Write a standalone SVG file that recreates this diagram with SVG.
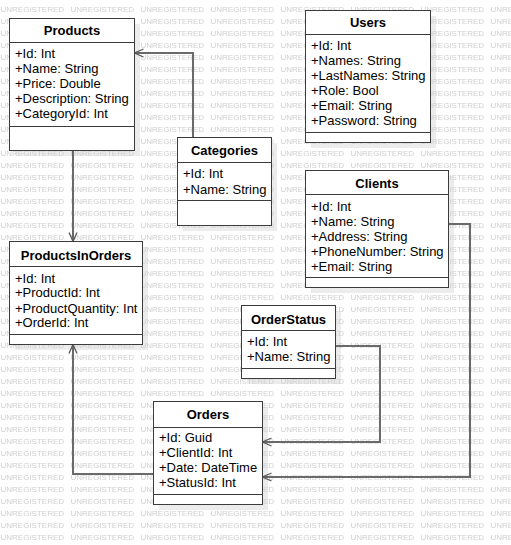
<svg xmlns="http://www.w3.org/2000/svg" width="511" height="545" viewBox="0 0 511 545">
  <style>
    .box { fill: #ffffff; stroke: #3c3c3c; stroke-width: 1; }
    .sep { stroke: #3c3c3c; stroke-width: 1; fill: none; }
    .shadow { fill: #ececec; }
    .title { font-family: "Liberation Sans", Arial, sans-serif; font-size: 13px; font-weight: bold; fill: #000; text-anchor: middle; }
    .attr { font-family: "Liberation Sans", Arial, sans-serif; font-size: 13px; fill: #000; }
    .wm { font-family: "Liberation Sans", Arial, sans-serif; font-size: 8px; fill: #cfcfcf; }
    .link { fill: none; stroke: #6a6a6a; stroke-width: 2; marker-end: url(#open); }
  </style>
  <defs>
    <marker id="open" markerUnits="userSpaceOnUse" viewBox="-11 -6 12 12" refX="0" refY="0" markerWidth="12" markerHeight="12" orient="auto" overflow="visible">
      <path d="M-9,-4 L0,0 L-9,4" fill="none" stroke="#5a5a5a" stroke-width="1.3"/>
    </marker>
    <pattern id="wmark" patternUnits="userSpaceOnUse" x="0" y="0" width="70" height="12">
      <text class="wm" x="0.5" y="11.9">UNREGISTERED</text>
    </pattern>
  </defs>

  <rect width="511" height="545" fill="#ffffff"/>

  <!-- drop shadows -->
  <g id="shadows">
    <rect class="shadow" x="15" y="24" width="125" height="132"/>
    <rect class="shadow" x="311" y="16" width="125" height="132"/>
    <rect class="shadow" x="183" y="143" width="94" height="88"/>
    <rect class="shadow" x="311" y="176" width="143" height="117"/>
    <rect class="shadow" x="15" y="247" width="133" height="103"/>
    <rect class="shadow" x="247" y="311" width="94" height="73"/>
    <rect class="shadow" x="159" y="407" width="109" height="103"/>
  </g>

  <!-- background watermark -->
  <rect width="511" height="545" fill="url(#wmark)"/>

  <!-- connectors -->
  <g id="connectors">
    <path class="link" d="M193,137.5 V53 H134.5"/>
    <path class="link" d="M73,150.5 V241.5"/>
    <path class="link" d="M153.5,474 H73 V344.5"/>
    <path class="link" d="M335.5,346 H380 V442 H262.5"/>
    <path class="link" d="M448.5,224 H470 V477 H262.5"/>
  </g>

  <g id="Products">
    <rect class="box" x="9.5" y="18.5" width="125" height="132"/>
    <path class="sep" d="M9.5,42.5 H134.5 M9.5,126.5 H134.5"/>
    <text class="title" x="72" y="35">Products</text>
    <text class="attr" x="15" y="58">+Id: Int</text>
    <text class="attr" x="15" y="73">+Name: String</text>
    <text class="attr" x="15" y="88">+Price: Double</text>
    <text class="attr" x="15" y="103">+Description: String</text>
    <text class="attr" x="15" y="118">+CategoryId: Int</text>
  </g>

  <g id="Users">
    <rect class="box" x="305.5" y="10.5" width="125" height="132"/>
    <path class="sep" d="M305.5,34.5 H430.5 M305.5,132.5 H430.5"/>
    <text class="title" x="368" y="27">Users</text>
    <text class="attr" x="311" y="50.3">+Id: Int</text>
    <text class="attr" x="311" y="65.3">+Names: String</text>
    <text class="attr" x="311" y="80.3">+LastNames: String</text>
    <text class="attr" x="311" y="95.3">+Role: Bool</text>
    <text class="attr" x="311" y="110.3">+Email: String</text>
    <text class="attr" x="311" y="125.3">+Password: String</text>
  </g>

  <g id="Categories">
    <rect class="box" x="177.5" y="137.5" width="94" height="88"/>
    <path class="sep" d="M177.5,162.5 H271.5 M177.5,200.5 H271.5"/>
    <text class="title" x="224.5" y="155">Categories</text>
    <text class="attr" x="183" y="178">+Id: Int</text>
    <text class="attr" x="183" y="193.5">+Name: String</text>
  </g>

  <g id="Clients">
    <rect class="box" x="305.5" y="170.5" width="143" height="117"/>
    <path class="sep" d="M305.5,194.5 H448.5 M305.5,277.5 H448.5"/>
    <text class="title" x="377" y="187.5">Clients</text>
    <text class="attr" x="311" y="210.5">+Id: Int</text>
    <text class="attr" x="311" y="225.5">+Name: String</text>
    <text class="attr" x="311" y="240.5">+Address: String</text>
    <text class="attr" x="311" y="255.5">+PhoneNumber: String</text>
    <text class="attr" x="311" y="270.5">+Email: String</text>
  </g>

  <g id="ProductsInOrders">
    <rect class="box" x="9.5" y="241.5" width="133" height="103"/>
    <path class="sep" d="M9.5,266.5 H142.5 M9.5,334.5 H142.5"/>
    <text class="title" x="76" y="259.5">ProductsInOrders</text>
    <text class="attr" x="15" y="282.5">+Id: Int</text>
    <text class="attr" x="15" y="297.3">+ProductId: Int</text>
    <text class="attr" x="15" y="312.5">+ProductQuantity: Int</text>
    <text class="attr" x="15" y="327.3">+OrderId: Int</text>
  </g>

  <g id="OrderStatus">
    <rect class="box" x="241.5" y="305.5" width="94" height="73"/>
    <path class="sep" d="M241.5,330.5 H335.5 M241.5,368.5 H335.5"/>
    <text class="title" x="288.5" y="323.5">OrderStatus</text>
    <text class="attr" x="247" y="346.3">+Id: Int</text>
    <text class="attr" x="247" y="361.3">+Name: String</text>
  </g>

  <g id="Orders">
    <rect class="box" x="153.5" y="401.5" width="109" height="103"/>
    <path class="sep" d="M153.5,427.5 H262.5 M153.5,494.5 H262.5"/>
    <text class="title" x="208" y="419">Orders</text>
    <text class="attr" x="159" y="442.3">+Id: Guid</text>
    <text class="attr" x="159" y="457.3">+ClientId: Int</text>
    <text class="attr" x="159" y="472.3">+Date: DateTime</text>
    <text class="attr" x="159" y="487.3">+StatusId: Int</text>
  </g>
</svg>
